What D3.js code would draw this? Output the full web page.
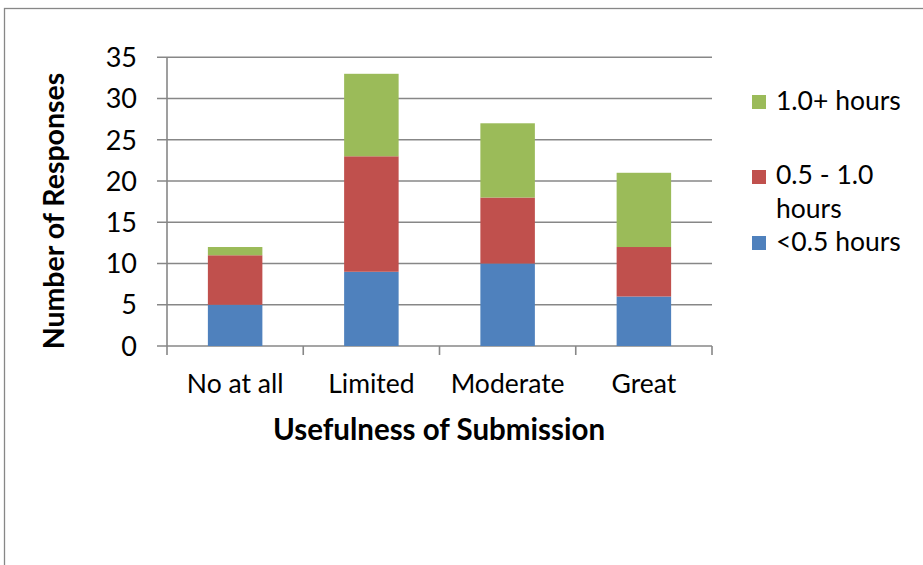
<!DOCTYPE html>
<html>
<head>
<meta charset="utf-8">
<script src="https://cdn.jsdelivr.net/npm/d3@7"></script>
<style>
  html, body { margin: 0; padding: 0; background: #fff; }
  svg { display: block; }
  text { font-family: Lato, "Open Sans", sans-serif; fill: #000; }
</style>
</head>
<body>
<svg id="chart" width="923" height="565"></svg>
<script>
const categories = ["No at all", "Limited", "Moderate", "Great"];
const seriesNames = ["<0.5 hours", "0.5 - 1.0 hours", "1.0+ hours"];
const lessHalf = [5, 9, 10, 6];
const halfToOne = [6, 14, 8, 6];
const overOne = [1, 10, 9, 9];
const yTicks = [0, 5, 10, 15, 20, 25, 30, 35];
const colors = ["#4F81BD", "#C0504D", "#9BBB59"];

(function () {
const svg = d3.select("#chart");
const gridColor = "#878787";

// outer frame
svg.append("rect")
  .attr("x", 4.5).attr("y", 8.5)
  .attr("width", 930).attr("height", 570)
  .attr("fill", "none").attr("stroke", gridColor).attr("stroke-width", 1.3);

const pLeft = 167, pRight = 712, pTop = 57.3, pBottom = 346;

const x = d3.scaleBand().domain(categories).range([pLeft, pRight])
  .paddingInner(0.6).paddingOuter(0.3);
const y = d3.scaleLinear().domain([0, 35]).range([pBottom, pTop]);

// gridlines
svg.append("g").selectAll("line").data(yTicks).join("line")
  .attr("x1", pLeft - 10).attr("x2", pRight)
  .attr("y1", d => y(d)).attr("y2", d => y(d))
  .attr("stroke", gridColor).attr("stroke-width", 1.6);

// y axis line
svg.append("line")
  .attr("x1", pLeft).attr("x2", pLeft)
  .attr("y1", y(35)).attr("y2", y(0))
  .attr("stroke", gridColor).attr("stroke-width", 1.6);

// x tick marks at category boundaries
const step = x.step();
const boundaries = d3.range(categories.length + 1).map(i => pLeft + i * step);
svg.append("g").selectAll("line").data(boundaries).join("line")
  .attr("x1", d => d).attr("x2", d => d)
  .attr("y1", y(0)).attr("y2", y(0) + 9)
  .attr("stroke", gridColor).attr("stroke-width", 1.6);

// stacked bars
const table = categories.map((c, i) => ({
  cat: c, s0: lessHalf[i], s1: halfToOne[i], s2: overOne[i]
}));
const stack = d3.stack().keys(["s0", "s1", "s2"])(table);
svg.append("g").selectAll("g").data(stack).join("g")
  .attr("fill", (d, i) => colors[i])
  .selectAll("rect").data(d => d).join("rect")
  .attr("x", d => x(d.data.cat))
  .attr("width", x.bandwidth())
  .attr("y", d => y(d[1]))
  .attr("height", d => y(d[0]) - y(d[1]));

// y tick labels
svg.append("g").selectAll("text").data(yTicks).join("text")
  .attr("x", 137).attr("y", d => y(d))
  .attr("dy", "0.36em")
  .attr("text-anchor", "end")
  .attr("font-size", 27)
  .text(d => d);

// x labels
svg.append("g").selectAll("text").data(categories).join("text")
  .attr("x", d => x(d) + x.bandwidth() / 2)
  .attr("y", 393)
  .attr("text-anchor", "middle")
  .attr("font-size", 26.5)
  .text(d => d);

// axis titles
svg.append("text")
  .attr("x", 439).attr("y", 440)
  .attr("text-anchor", "middle")
  .attr("font-size", 29.5).attr("font-weight", "bold")
  .text("Usefulness of Submission");

svg.append("text")
  .attr("transform", "translate(64,211) rotate(-90)")
  .attr("text-anchor", "middle")
  .attr("font-size", 28.5).attr("font-weight", "bold")
  .text("Number of Responses");

// legend
const legendItems = [
  { name: seriesNames[2], color: colors[2], sq: 95, lines: [[110, "1.0+ hours"]] },
  { name: seriesNames[1], color: colors[1], sq: 170, lines: [[184, "0.5 - 1.0"], [218, "hours"]] },
  { name: seriesNames[0], color: colors[0], sq: 236, lines: [[251, "<0.5 hours"]] }
];
const lg = svg.append("g").selectAll("g").data(legendItems).join("g");
lg.append("rect")
  .attr("x", 752).attr("y", d => d.sq)
  .attr("width", 14).attr("height", 14)
  .attr("fill", d => d.color);
lg.each(function (d) {
  d3.select(this).selectAll("text").data(d.lines).join("text")
    .attr("x", 776).attr("y", l => l[0])
    .attr("font-size", 26.5)
    .text(l => l[1]);
});
})();
</script>
</body>
</html>
